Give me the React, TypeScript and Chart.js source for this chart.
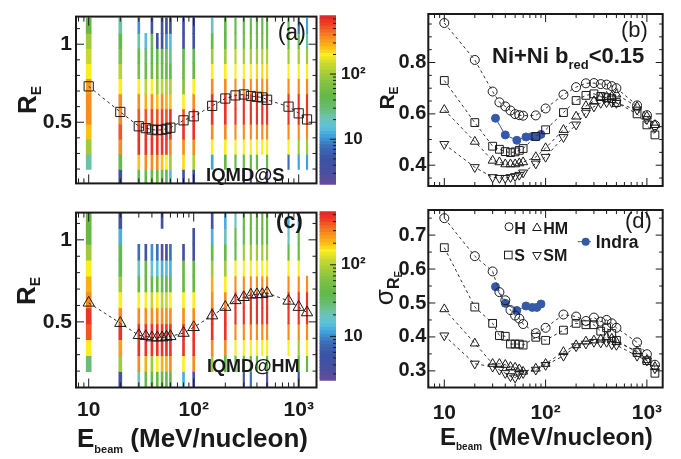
import React, { useEffect, useRef } from 'react';
import { Chart, registerables } from 'chart.js';

Chart.register(...registerables);

const FONT = '"Liberation Sans", Arial, Helvetica, sans-serif';
const INK = '#1a1a1a';
const INDRA_BLUE = '#3558a8';

// ---------------- data ----------------
const energies = [10, 20, 30, 35, 40, 45, 50, 55, 60, 80, 100, 150, 200, 250, 300, 350, 400, 450, 500, 800, 1000, 1200];

// mean R_E (panels a, c and b)
const rE_S = [0.73, 0.566, 0.474, 0.462, 0.453, 0.449, 0.452, 0.458, 0.465, 0.512, 0.538, 0.605, 0.652, 0.672, 0.678, 0.668, 0.663, 0.659, 0.644, 0.6, 0.557, 0.518];
const rE_HM = [0.616, 0.492, 0.418, 0.412, 0.404, 0.404, 0.404, 0.408, 0.412, 0.432, 0.467, 0.538, 0.59, 0.631, 0.65, 0.665, 0.667, 0.668, 0.676, 0.628, 0.59, 0.557];
const rE_H = [0.954, 0.81, 0.687, 0.645, 0.629, 0.613, 0.599, 0.595, 0.593, 0.594, 0.621, 0.675, 0.704, 0.719, 0.72, 0.716, 0.714, 0.708, 0.7, 0.633, 0.595, 0.556];
const rE_SM = [0.482, 0.392, 0.353, 0.35, 0.35, 0.353, 0.357, 0.362, 0.371, 0.406, 0.432, 0.509, 0.558, 0.604, 0.628, 0.642, 0.645, 0.645, 0.642, 0.616, 0.579, 0.546];

const indraE = [32, 40, 52, 64, 74, 82, 90];
const rE_Indra = [0.583, 0.518, 0.497, 0.51, 0.512, 0.511, 0.52];

// sigma of R_E (panel d)
const sig_H = [0.75, 0.638, 0.593, 0.532, 0.508, 0.479, 0.463, 0.454, 0.438, 0.411, 0.427, 0.466, 0.46, 0.447, 0.457, 0.445, 0.45, 0.44, 0.427, 0.384, 0.349, 0.318];
const sig_S = [0.663, 0.488, 0.44, 0.404, 0.402, 0.379, 0.379, 0.379, 0.376, 0.399, 0.39, 0.42, 0.44, 0.436, 0.436, 0.417, 0.427, 0.41, 0.39, 0.354, 0.33, 0.293];
const sig_HM = [0.482, 0.381, 0.321, 0.321, 0.318, 0.312, 0.31, 0.305, 0.298, 0.307, 0.321, 0.356, 0.376, 0.387, 0.39, 0.393, 0.399, 0.395, 0.385, 0.358, 0.332, 0.312];
const sig_SM = [0.404, 0.321, 0.312, 0.303, 0.293, 0.284, 0.28, 0.29, 0.293, 0.303, 0.317, 0.344, 0.372, 0.38, 0.385, 0.383, 0.385, 0.378, 0.376, 0.344, 0.33, 0.307];
const sig_Indra = [0.548, 0.499, 0.478, 0.491, 0.487, 0.487, 0.497];

// R_E bin edges of the event distributions
const binEdges = [0.1, 0.197, 0.294, 0.391, 0.488, 0.585, 0.682, 0.779, 0.876, 0.973, 1.07, 1.167];

// counts per energy (rows) and R_E bin (bottom -> top), IQMD@S
const countsS = [
  [0, 22, 98, 270, 366, 366, 330, 200, 149, 98, 48],
  [4, 48, 366, 525, 366, 366, 200, 120, 65, 48, 22],
  [48, 270, 670, 670, 525, 366, 200, 60, 48, 22, 10],
  [48, 366, 670, 670, 525, 300, 120, 55, 35, 15, 0],
  [48, 366, 670, 670, 600, 366, 200, 55, 45, 40, 4],
  [48, 366, 670, 670, 525, 270, 98, 55, 45, 4, 0],
  [48, 270, 670, 670, 600, 366, 120, 55, 45, 5, 4],
  [40, 200, 600, 670, 525, 300, 110, 50, 35, 10, 4],
  [15, 98, 366, 670, 670, 270, 110, 48, 25, 15, 4],
  [4, 240, 366, 670, 525, 200, 65, 48, 45, 4, 4],
  [4, 110, 366, 670, 670, 366, 200, 48, 45, 4, 4],
  [0, 12, 200, 366, 670, 670, 366, 200, 98, 48, 20],
  [0, 48, 200, 366, 670, 670, 366, 200, 98, 48, 45],
  [0, 48, 200, 366, 670, 670, 366, 200, 120, 60, 40],
  [2.3, 48, 200, 366, 670, 670, 366, 200, 98, 55, 45],
  [2.3, 48, 200, 366, 670, 670, 366, 200, 98, 55, 45],
  [0, 48, 200, 366, 670, 670, 366, 240, 98, 55, 45],
  [0, 0, 200, 366, 670, 670, 366, 240, 110, 55, 45],
  [2.3, 48, 200, 366, 670, 670, 366, 240, 110, 55, 45],
  [0, 8, 200, 366, 670, 670, 366, 200, 98, 48, 48],
  [0, 12, 98, 366, 670, 670, 366, 200, 98, 48, 8],
  [0, 12, 98, 366, 670, 670, 366, 200, 98, 22, 12],
];

// counts per energy and R_E bin, IQMD@HM
const countsHM = [
  [0, 29, 160, 380, 470, 275, 210, 160, 83, 43, 43],
  [4.6, 83, 250, 470, 275, 160, 83, 43, 43, 13, 4.6],
  [21, 275, 470, 470, 275, 160, 43, 21, 8.6, 0, 0],
  [43, 210, 470, 470, 275, 160, 43, 43, 4.6, 0, 0],
  [43, 83, 470, 470, 275, 120, 43, 17, 11, 0, 0],
  [43, 160, 470, 470, 275, 160, 43, 17, 8.6, 0, 0],
  [43, 210, 470, 470, 275, 100, 43, 13, 2.7, 0, 4.6],
  [43, 210, 470, 470, 275, 120, 43, 15, 4.6, 0, 0],
  [43, 275, 470, 470, 275, 160, 43, 13, 8.6, 0, 0],
  [13, 160, 470, 470, 275, 160, 43, 43, 4.6, 0, 0],
  [4.6, 275, 470, 470, 275, 160, 43, 43, 4.6, 4.6, 0],
  [0, 83, 275, 470, 470, 275, 210, 83, 43, 13, 4.6],
  [0, 43, 275, 470, 470, 275, 160, 83, 43, 21, 13],
  [0, 43, 160, 275, 470, 470, 275, 160, 43, 43, 21],
  [4.6, 43, 160, 275, 470, 470, 275, 160, 83, 43, 43],
  [8.6, 43, 160, 275, 470, 470, 275, 160, 83, 43, 43],
  [0, 43, 160, 275, 470, 470, 275, 160, 83, 43, 43],
  [0, 0, 160, 275, 470, 470, 275, 160, 83, 43, 43],
  [2.7, 43, 160, 275, 470, 470, 275, 160, 83, 43, 43],
  [0, 0, 160, 275, 470, 470, 275, 160, 43, 21, 13],
  [4.6, 43, 83, 275, 470, 470, 275, 160, 43, 43, 13],
  [0, 43, 160, 275, 470, 470, 275, 0, 0, 0, 0],
];

const zRangeS: [number, number] = [2, 800];
const zRangeHM: [number, number] = [2.4, 560];
const zTickValues = [10, 100];
const zTickLabels = ['10', '10\u00b2'];

const xTickValues = [10, 100, 1000];
const xTickLabels = ['10', '10\u00b2', '10\u00b3'];

const xRangeLeft: [number, number] = [7.57, 1477];
const xRangeRight: [number, number] = [6.95, 1432];
const yRangeA: [number, number] = [0.108, 1.177];
const yRangeC: [number, number] = [0.1, 1.166];
const yRangeB: [number, number] = [0.319, 0.989];
const yRangeD: [number, number] = [0.251, 0.774];
const yTicksLeft = [0.5, 1];
const yLabelsLeft = ['0.5', '1'];
const yTicksB = [0.4, 0.6, 0.8];
const yLabelsB = ['0.4', '0.6', '0.8'];
const yTicksD = [0.3, 0.4, 0.5, 0.6, 0.7];
const yLabelsD = ['0.3', '0.4', '0.5', '0.6', '0.7'];

// ---------------- palette ----------------
const NLEV = 50;
const paletteStops: [number, string][] = [
  [0.0, '#6b4c9a'],
  [0.07, '#4b4fa0'],
  [0.16, '#3a54a4'],
  [0.23, '#3c6fb7'],
  [0.29, '#3fa2dc'],
  [0.34, '#5bc3dc'],
  [0.4, '#6cc3b2'],
  [0.45, '#69bd78'],
  [0.52, '#62b847'],
  [0.6, '#82c242'],
  [0.66, '#a5cd39'],
  [0.72, '#cdda2d'],
  [0.77, '#fdee21'],
  [0.81, '#fcc017'],
  [0.86, '#f8961d'],
  [0.91, '#f26a22'],
  [0.95, '#ee4124'],
  [1.0, '#e5222a'],
];
function hexRgb(h: string) {
  return [parseInt(h.slice(1, 3), 16), parseInt(h.slice(3, 5), 16), parseInt(h.slice(5, 7), 16)];
}
function palette(f: number) {
  for (let i = 1; i < paletteStops.length; i++) {
    if (f <= paletteStops[i][0]) {
      const [f0, c0] = paletteStops[i - 1];
      const [f1, c1] = paletteStops[i];
      const t = (f - f0) / (f1 - f0);
      const a = hexRgb(c0);
      const b = hexRgb(c1);
      const m = a.map((v, k) => Math.round(v + (b[k] - v) * t));
      return `rgb(${m[0]},${m[1]},${m[2]})`;
    }
  }
  return paletteStops[paletteStops.length - 1][1];
}
function colorFor(c: number, range: [number, number]) {
  let f = Math.log(c / range[0]) / Math.log(range[1] / range[0]);
  f = Math.min(Math.max(f, 0), 0.9999);
  const lvl = Math.floor(f * NLEV);
  return palette((lvl + 0.5) / NLEV);
}

// ---------------- helpers ----------------
function logMinor(min: number, max: number) {
  const out: number[] = [];
  for (let d = 1; d <= 10000; d *= 10) {
    for (let m = 2; m <= 9; m++) {
      const v = m * d;
      if (v > min && v < max) out.push(v);
    }
  }
  return out;
}
function linTicks(min: number, max: number, step: number, skip: number[]) {
  const out: number[] = [];
  const start = Math.ceil(min / step - 1e-9);
  for (let k = start; k * step <= max + 1e-9; k++) {
    const v = +(k * step).toFixed(6);
    if (!skip.some((s) => Math.abs(s - v) < 1e-6)) out.push(v);
  }
  return out;
}

const tickFont = (size: number) => ({ family: FONT, size, weight: 'bold' as const });

function xLogScale(range: [number, number], showLabels: boolean, height: number, pad: number) {
  return {
    type: 'logarithmic',
    position: 'bottom',
    min: range[0],
    max: range[1],
    offset: false,
    grid: { display: false, drawTicks: false },
    border: { display: false },
    ticks: {
      display: showLabels,
      autoSkip: false,
      maxRotation: 0,
      minRotation: 0,
      padding: pad,
      color: INK,
      font: tickFont(21),
      callback: (_v: any, i: number) => xTickLabels[i],
    },
    afterBuildTicks: (s: any) => {
      s.ticks = xTickValues.map((v) => ({ value: v }));
    },
    afterFit: (s: any) => {
      s.height = height;
    },
  };
}

function yLinScale(range: [number, number], vals: number[], labels: string[], width: number, pad: number, size: number) {
  return {
    type: 'linear',
    position: 'left',
    min: range[0],
    max: range[1],
    grid: { display: false, drawTicks: false },
    border: { display: false },
    ticks: {
      autoSkip: false,
      padding: pad,
      color: INK,
      font: tickFont(size),
      callback: (_v: any, i: number) => labels[i],
    },
    afterBuildTicks: (s: any) => {
      s.ticks = vals.map((v) => ({ value: v }));
    },
    afterFit: (s: any) => {
      s.width = width;
    },
  };
}

type TickSpec = { major: number[]; minor: number[]; majorLen: number; minorLen: number; sides: string[] };

function framePlugin(opts: { frame: boolean; x?: TickSpec; y?: TickSpec; extra?: (ctx: any, chart: any) => void }) {
  return {
    id: 'rootFrame',
    afterDraw(chart: any) {
      const { ctx, chartArea: a } = chart;
      ctx.save();
      ctx.strokeStyle = INK;
      ctx.lineWidth = 1;
      ctx.setLineDash([]);
      const drawAxis = (spec: TickSpec | undefined, scale: any) => {
        if (!spec || !scale) return;
        const seg = (vals: number[], len: number) =>
          vals.forEach((v) => {
            const p = scale.getPixelForValue(v);
            spec.sides.forEach((side) => {
              ctx.beginPath();
              if (side === 'bottom') {
                ctx.moveTo(p, a.bottom);
                ctx.lineTo(p, a.bottom - len);
              } else if (side === 'top') {
                ctx.moveTo(p, a.top);
                ctx.lineTo(p, a.top + len);
              } else if (side === 'left') {
                ctx.moveTo(a.left, p);
                ctx.lineTo(a.left + len, p);
              } else {
                ctx.moveTo(a.right, p);
                ctx.lineTo(a.right - len, p);
              }
              ctx.stroke();
            });
          });
        seg(spec.minor, spec.minorLen);
        seg(spec.major, spec.majorLen);
      };
      drawAxis(opts.x, chart.scales.x);
      drawAxis(opts.y, chart.scales.y);
      if (opts.frame) {
        ctx.lineWidth = 2;
        ctx.strokeRect(a.left, a.top, a.right - a.left, a.bottom - a.top);
      }
      if (opts.extra) opts.extra(ctx, chart);
      ctx.restore();
    },
  };
}

function stripWidth(e: number) {
  if (e === 10) return 5;
  if (e === 20) return 3;
  if (e >= 250) return 1.5;
  return 2;
}

function heatDatasets(counts: number[][], range: [number, number]) {
  const groups: Record<string, { data: any[]; colors: string[] }> = {};
  energies.forEach((e, i) => {
    const key = String(stripWidth(e));
    if (!groups[key]) groups[key] = { data: [], colors: [] };
    counts[i].forEach((c, b) => {
      if (c > 0) {
        groups[key].data.push({ x: e, y: [binEdges[b], binEdges[b + 1]] });
        groups[key].colors.push(colorFor(c, range));
      }
    });
  });
  return Object.keys(groups).map((k) => ({
    type: 'bar',
    data: groups[k].data,
    backgroundColor: groups[k].colors,
    borderWidth: 0,
    barThickness: Number(k),
    grouped: false,
    clip: 0,
    order: 5,
  }));
}

function series(xs: number[], ys: number[], style: string, radius: number, rotation = 0, color = INK, dash: number[] = [3, 3], pointFill = 'rgba(0,0,0,0)', lineColor = '#333') {
  return {
    type: 'line',
    data: xs.map((x, i) => ({ x, y: ys[i] })),
    borderColor: lineColor,
    borderWidth: 1,
    borderDash: dash,
    pointStyle: style,
    pointRadius: radius,
    pointRotation: rotation,
    pointBorderColor: color,
    pointBackgroundColor: pointFill,
    pointBorderWidth: 1,
    tension: 0,
    fill: false,
    order: 0,
  };
}

const leftXTicks = (): TickSpec => ({
  major: xTickValues,
  minor: logMinor(xRangeLeft[0], xRangeLeft[1]),
  majorLen: 9,
  minorLen: 5,
  sides: ['bottom', 'top'],
});
const rightXTicks = (): TickSpec => ({
  major: xTickValues,
  minor: logMinor(xRangeRight[0], xRangeRight[1]),
  majorLen: 8,
  minorLen: 4,
  sides: ['bottom', 'top'],
});

const baseOpts = {
  responsive: false,
  animation: false,
  events: [],
  devicePixelRatio: 1,
};

function panelLeft(counts: number[][], zr: [number, number], means: number[], style: string, yr: [number, number], withX: boolean, padTop: number) {
  return {
    type: 'line',
    data: {
      datasets: [series(energies, means, style, 6.5), ...heatDatasets(counts, zr)],
    },
    options: {
      ...baseOpts,
      layout: { padding: { left: 0, right: 23.5, top: padTop, bottom: 0 } },
      scales: {
        x: xLogScale(xRangeLeft, withX, withX ? 71.5 : 4, 10),
        y: yLinScale(yr, yTicksLeft, yLabelsLeft, 76, 4, 21),
      },
      plugins: { legend: { display: false }, tooltip: { enabled: false } },
    },
    plugins: [
      framePlugin({
        frame: true,
        x: leftXTicks(),
        y: { major: yTicksLeft, minor: linTicks(yr[0], yr[1], 0.1, yTicksLeft), majorLen: 8, minorLen: 4, sides: ['left', 'right'] },
      }),
    ],
  };
}

function colorBar(zr: [number, number], padTop: number, padBottom: number) {
  const bands: { lo: number; hi: number; color: string }[] = [];
  const ratio = zr[1] / zr[0];
  for (let i = 0; i < NLEV; i++) {
    bands.push({
      lo: zr[0] * Math.pow(ratio, i / NLEV),
      hi: zr[0] * Math.pow(ratio, (i + 1) / NLEV),
      color: palette((i + 0.5) / NLEV),
    });
  }
  return {
    type: 'bar',
    data: {
      datasets: [
        {
          data: bands.map((b) => ({ x: 0.5, y: [b.lo, b.hi] })),
          backgroundColor: bands.map((b) => b.color),
          borderWidth: 0,
          barThickness: 16.5,
          grouped: false,
          inflateAmount: 0.4,
        },
      ],
    },
    options: {
      ...baseOpts,
      layout: { padding: { left: 5.5, right: 14, top: padTop, bottom: padBottom } },
      scales: {
        x: { type: 'linear', min: 0, max: 1, display: false, offset: false },
        y: {
          type: 'logarithmic',
          position: 'right',
          min: zr[0],
          max: zr[1],
          grid: { display: false, drawTicks: false },
          border: { display: false },
          ticks: {
            autoSkip: false,
            crossAlign: 'center',
            padding: 5,
            color: INK,
            font: tickFont(17),
            callback: (_v: any, i: number) => zTickLabels[i],
          },
          afterBuildTicks: (s: any) => {
            s.ticks = zTickValues.map((v) => ({ value: v }));
          },
          afterFit: (s: any) => {
            s.width = 34;
          },
        },
      },
      plugins: { legend: { display: false }, tooltip: { enabled: false } },
    },
    plugins: [
      framePlugin({
        frame: false,
        y: { major: zTickValues, minor: logMinor(zr[0], zr[1]), majorLen: 6, minorLen: 3, sides: ['right'] },
      }),
    ],
  };
}

function drawLegendMarkers(ctx: any) {
  // canvas of panel (d) starts at page (340, 196)
  const ox = 340;
  const oy = 196;
  ctx.save();
  ctx.lineWidth = 1;
  ctx.strokeStyle = INK;
  ctx.setLineDash([]);
  ctx.beginPath();
  ctx.arc(509 - ox, 226.7 - oy, 4, 0, Math.PI * 2);
  ctx.stroke();
  const tri = (x: number, y: number, r: number, dir: number) => {
    ctx.beginPath();
    ctx.moveTo(x, y - dir * r);
    ctx.lineTo(x + r * 0.866, y + dir * r * 0.5);
    ctx.lineTo(x - r * 0.866, y + dir * r * 0.5);
    ctx.closePath();
    ctx.stroke();
  };
  tri(537 - ox, 228 - oy, 5, 1);
  ctx.strokeRect(508.3 - ox - 3.8, 255 - oy - 3.8, 7.6, 7.6);
  tri(537 - ox, 255 - oy, 5, -1);
  ctx.strokeStyle = INDRA_BLUE;
  ctx.fillStyle = INDRA_BLUE;
  ctx.beginPath();
  ctx.moveTo(577.7 - ox, 241.7 - oy);
  ctx.lineTo(591 - ox, 241.7 - oy);
  ctx.stroke();
  ctx.beginPath();
  ctx.arc(585.7 - ox, 241.7 - oy, 4, 0, Math.PI * 2);
  ctx.fill();
  ctx.restore();
}

function panelRight(which: 'b' | 'd') {
  const isB = which === 'b';
  const yr = isB ? yRangeB : yRangeD;
  const H = isB ? rE_H : sig_H;
  const S = isB ? rE_S : sig_S;
  const HM = isB ? rE_HM : sig_HM;
  const SM = isB ? rE_SM : sig_SM;
  const IN = isB ? rE_Indra : sig_Indra;
  const yMajor = isB ? yTicksB : yTicksD;
  return {
    type: 'line',
    data: {
      datasets: [
        series(energies, H, 'circle', 4.5),
        series(energies, S, 'rect', 5.5),
        series(energies, HM, 'triangle', 5.2),
        series(energies, SM, 'triangle', 5.2, 180),
        series(indraE, IN, 'circle', 4, 0, INDRA_BLUE, [], INDRA_BLUE, INDRA_BLUE),
      ],
    },
    options: {
      ...baseOpts,
      layout: { padding: { left: 0, right: 18.3, top: isB ? 5 : 1, bottom: 0 } },
      scales: {
        x: xLogScale(xRangeRight, !isB, isB ? 3.5 : 71.5, 13),
        y: yLinScale(yr, yMajor, isB ? yLabelsB : yLabelsD, 88.3, 2, 20),
      },
      plugins: { legend: { display: false }, tooltip: { enabled: false } },
    },
    plugins: [
      framePlugin({
        frame: true,
        x: rightXTicks(),
        y: { major: yMajor, minor: linTicks(yr[0], yr[1], 0.05, yMajor), majorLen: 7, minorLen: 3.5, sides: ['left', 'right'] },
        extra: isB ? undefined : (ctx: any) => drawLegendMarkers(ctx),
      }),
    ],
  };
}

// ---------------- components ----------------
function ChartBox(props: { left: number; top: number; width: number; height: number; make: () => any }) {
  const ref = useRef<HTMLCanvasElement>(null);
  useEffect(() => {
    const chart = new Chart(ref.current as HTMLCanvasElement, props.make());
    return () => chart.destroy();
  }, []);
  return (
    <canvas
      ref={ref}
      width={props.width}
      height={props.height}
      style={{ position: 'absolute', left: props.left, top: props.top, width: props.width, height: props.height }}
    />
  );
}

function Txt(props: { x: number; y: number; size: number; bold?: boolean; children: any; style?: any }) {
  return (
    <div
      style={{
        position: 'absolute',
        left: props.x,
        top: props.y,
        fontSize: props.size,
        fontWeight: props.bold === false ? 400 : 700,
        fontFamily: FONT,
        lineHeight: 1,
        whiteSpace: 'nowrap',
        color: INK,
        ...(props.style || {}),
      }}
    >
      {props.children}
    </div>
  );
}

function Sub(props: { size: number; drop: number; children: any }) {
  return <span style={{ fontSize: props.size, position: 'relative', top: props.drop }}>{props.children}</span>;
}

function VTitle(props: { cx: number; cy: number; children: any }) {
  return (
    <div
      style={{
        position: 'absolute',
        left: props.cx,
        top: props.cy,
        transform: 'translate(-50%, -50%) rotate(-90deg)',
        fontFamily: FONT,
        fontWeight: 700,
        lineHeight: 1,
        whiteSpace: 'nowrap',
        color: INK,
      }}
    >
      {props.children}
    </div>
  );
}

export default function App() {
  return (
    <div style={{ position: 'absolute', left: 0, top: 0, width: 681, height: 459, background: '#fff', overflow: 'hidden' }}>
      <ChartBox left={0} top={0} width={340} height={200} make={() => panelLeft(countsS, zRangeS, rE_S, 'rect', yRangeA, false, 5)} />
      <ChartBox left={0} top={196} width={340} height={263} make={() => panelLeft(countsHM, zRangeHM, rE_HM, 'triangle', yRangeC, true, 1)} />
      <ChartBox left={314} top={0} width={70} height={200} make={() => colorBar(zRangeS, 6, 3.5)} />
      <ChartBox left={314} top={196} width={70} height={200} make={() => colorBar(zRangeHM, 1, 7)} />
      <ChartBox left={340} top={0} width={341} height={200} make={() => panelRight('b')} />
      <ChartBox left={340} top={196} width={341} height={263} make={() => panelRight('d')} />

      {/* axis titles */}
      <VTitle cx={27} cy={100}>
        <span style={{ fontSize: 26 }}>R</span>
        <Sub size={14} drop={5}>E</Sub>
      </VTitle>
      <VTitle cx={26} cy={291}>
        <span style={{ fontSize: 26 }}>R</span>
        <Sub size={14} drop={5}>E</Sub>
      </VTitle>
      <VTitle cx={386} cy={97.5}>
        <span style={{ fontSize: 21 }}>R</span>
        <Sub size={12} drop={4}>E</Sub>
      </VTitle>
      <VTitle cx={384} cy={287.5}>
        <span style={{ fontSize: 26, fontWeight: 400 }}>σ</span>
        <span style={{ fontSize: 16, position: 'relative', top: 6 }}>
          R<span style={{ fontSize: 10, position: 'relative', top: 3 }}>E</span>
        </span>
      </VTitle>

      <Txt x={77} y={425} size={26}>
        E<Sub size={11} drop={6}>beam</Sub>
        {'\u00a0(MeV/nucleon)'}
      </Txt>
      <Txt x={440} y={424.7} size={24}>
        E<Sub size={10} drop={5}>beam</Sub>
        {'\u00a0(MeV/nucleon)'}
      </Txt>

      {/* panel labels */}
      <Txt x={277.7} y={20.7} size={23} bold={false}>(a)</Txt>
      <Txt x={276} y={210.4} size={22}>(c)</Txt>
      <Txt x={621} y={18.8} size={22} bold={false}>(b)</Txt>
      <Txt x={625} y={210.1} size={22} bold={false}>(d)</Txt>

      <Txt x={206} y={165.6} size={18.5}>IQMD@S</Txt>
      <Txt x={207} y={356.7} size={18}>IQMD@HM</Txt>

      <Txt x={492} y={45.1} size={22}>
        Ni+Ni b<Sub size={13} drop={6}>red</Sub>
        {'<0.15'}
      </Txt>

      {/* legend texts (markers are drawn in panel d) */}
      <Txt x={514.3} y={220.8} size={16}>H</Txt>
      <Txt x={543.3} y={220.8} size={16}>HM</Txt>
      <Txt x={514.3} y={248.2} size={16}>S</Txt>
      <Txt x={543.3} y={248.2} size={16}>SM</Txt>
      <Txt x={595.7} y={233.5} size={17.5}>Indra</Txt>
    </div>
  );
}
